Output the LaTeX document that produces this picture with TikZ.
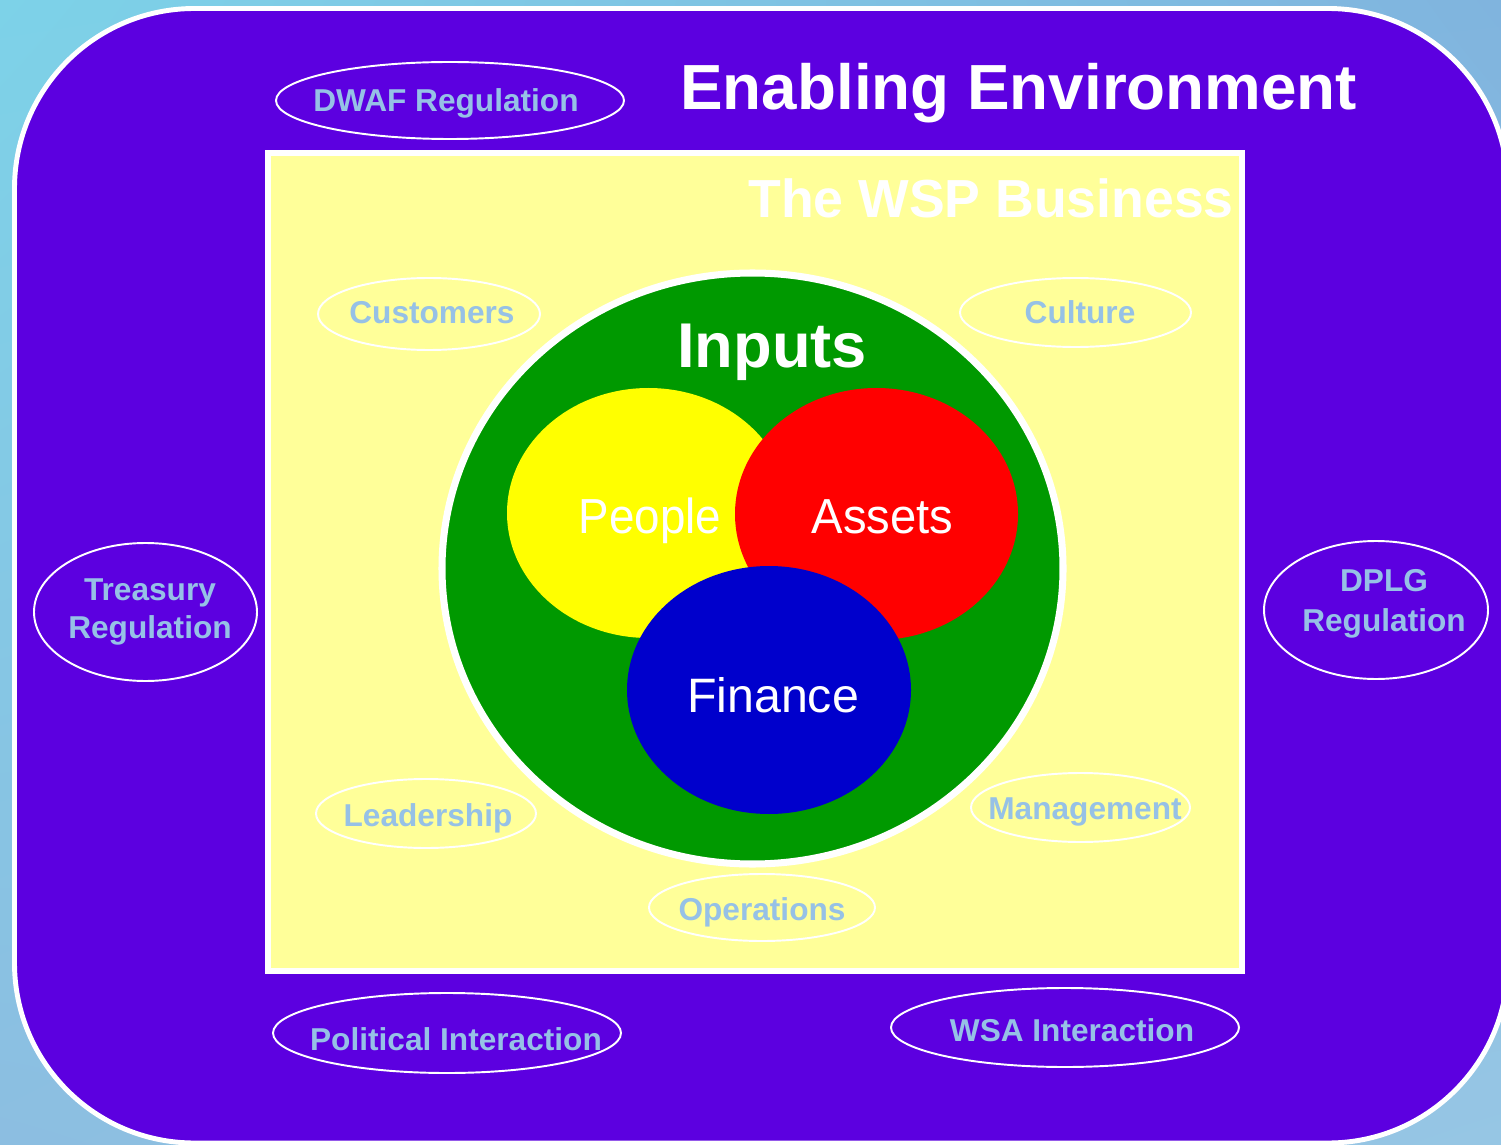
\documentclass[tikz,border=0pt]{standalone}
\usepackage{fontspec}
\setmainfont{Liberation Sans}
\usetikzlibrary{shapes.geometric,shadings}
\definecolor{envpurple}{RGB}{92,0,224}
\definecolor{bizyellow}{RGB}{255,255,153}
\definecolor{inputgreen}{RGB}{0,153,0}
\definecolor{peopleyellow}{RGB}{255,255,0}
\definecolor{assetred}{RGB}{255,0,0}
\definecolor{financeblue}{RGB}{0,0,204}
\definecolor{labelblue}{RGB}{150,193,230}
\definecolor{skyA}{RGB}{125,210,232}
\definecolor{skyB}{RGB}{128,180,222}
\definecolor{skyC}{RGB}{140,190,225}
\definecolor{skyD}{RGB}{150,198,228}
\begin{document}
\begin{tikzpicture}[x=0.02cm,y=-0.02cm,
  oval/.style 2 args={ellipse, draw=white, line width=1.1pt, inner sep=0pt, outer sep=0pt,
    minimum width={#1*0.02cm}, minimum height={#2*0.02cm}},
  lbl/.style={text=labelblue, font=\bfseries\fontsize{18}{21}\selectfont, inner sep=0pt, anchor=base},
  lbltwo/.style={text=labelblue, font=\bfseries\fontsize{18}{22}\selectfont, inner sep=0pt, align=center},
  blob/.style={ellipse, inner sep=0pt, outer sep=0pt},
  bigtxt/.style={text=white, inner sep=0pt, anchor=base}]
\useasboundingbox (0,0) rectangle (1501,1145);
\clip (0,0) rectangle (1501,1145);

% sky background
\shade[upper left=skyA, upper right=skyB, lower left=skyC, lower right=skyD] (0,0) rectangle (1501,1145);

% enabling environment panel
\draw[white, line width=2.8pt, fill=envpurple, rounded corners=3.6cm] (14.5,8.5) rectangle (1508,1143);

% the WSP business panel
\draw[white, line width=3.4pt, fill=bizyellow] (268,153) rectangle (1242,971);

% titles
\node[bigtxt, anchor=base west, font=\bfseries\fontsize{36.3}{40}\selectfont] (envtitle) at (680,110) {Enabling Environment};
\node[bigtxt, font=\bfseries\fontsize{30.5}{34}\selectfont] (biztitle) at (991,218) {The WSP Business};

% regulators and interactions around the business
\node[oval={348}{77}] (dwaf) at (450,100.5) {};
\node[lbl] (dwaft) at (446,112) {DWAF Regulation};
\node[oval={223}{138}] (treas) at (145.5,612) {};
\node[lbltwo] (treast) at (150,612) {Treasury\\Regulation};
\node[oval={224}{138}] (dplg) at (1376,610) {};
\node[lbltwo, font=\bfseries\fontsize{18}{22.7}\selectfont] (dplgt) at (1384,604) {DPLG\\Regulation};
\node[oval={348}{80}] (polit) at (447,1033) {};
\node[lbl] (politt) at (456,1050) {Political Interaction};
\node[oval={348}{79}] (wsa) at (1065,1027.5) {};
\node[lbl] (wsat) at (1072,1041) {WSA Interaction};

% aspects of the business
\node[oval={222}{72}] (cust) at (429,314) {};
\node[lbl] (custt) at (432,324) {Customers};
\node[oval={231}{69}] (cult) at (1075.5,312.5) {};
\node[lbl] (cultt) at (1080,324) {Culture};
\node[oval={220}{69}] (lead) at (426,813.5) {};
\node[lbl] (leadt) at (428,826) {Leadership};
\node[oval={226}{67}] (oper) at (762,907.5) {};
\node[lbl] (opert) at (762,920) {Operations};
\node[oval={219}{69}] (mgmt) at (1080.5,807.5) {};
\node[lbl] (mgmtt) at (1085,819) {Management};

% inputs
\node[blob, fill=inputgreen, draw=white, line width=4pt, minimum width={621*0.02cm}, minimum height={591*0.02cm}] (inputs) at (752.5,568.5) {};
\node[bigtxt, font=\bfseries\fontsize{36}{40}\selectfont] (inputst) at (772,368) {Inputs};
\node[blob, fill=peopleyellow, minimum width={283*0.02cm}, minimum height={250*0.02cm}] (people) at (648.5,513) {};
\node[blob, fill=assetred, minimum width={283*0.02cm}, minimum height={252*0.02cm}] (assets) at (876.5,514) {};
\node[blob, fill=financeblue, minimum width={284*0.02cm}, minimum height={248*0.02cm}] (finance) at (769,690) {};
\node[bigtxt, font=\fontsize{28}{32}\selectfont] (peoplet) at (650,533) {\scalebox{0.93}[1]{People}};
\node[bigtxt, font=\fontsize{28}{32}\selectfont] (assetst) at (882.5,533) {\scalebox{0.96}[1]{Assets}};
\node[bigtxt, font=\fontsize{27.5}{32}\selectfont] (financet) at (773,712) {Finance};
\end{tikzpicture}
\end{document}
